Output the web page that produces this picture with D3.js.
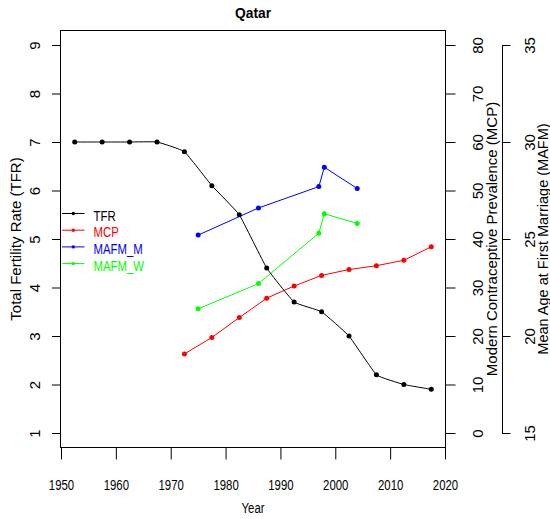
<!DOCTYPE html>
<meta charset="utf-8">
<style>

body{
    margin:0;
    background-color:white;
}

svg.vis{
    display:block;
    font-family:"Liberation Sans", Arial, sans-serif;
}

.axis text{
    font-size:15px;
    fill:black;
}

.axis line, .axis path{
    stroke:black;
}

.box{
    fill:none;
    stroke:black;
}

.series{
    fill:none;
    stroke-width:1;
}

.label{
    font-size:15px;
}

.label.small{
    font-size:14.5px;
}

.title{
    font-size:15px;
    font-weight:bold;
}

</style>
<body>
<script src="https://cdn.jsdelivr.net/npm/d3@7"></script>
<script>

// values
var tfrYears = [1952.5, 1957.5, 1962.5, 1967.5, 1972.5, 1977.5, 1982.5, 1987.5, 1992.5, 1997.5, 2002.5, 2007.5, 2012.5, 2017.5];
var tfrValues = [7.0, 7.0, 7.0, 7.0, 6.8, 6.1, 5.5, 4.4, 3.7, 3.5, 3.0, 2.2, 2.0, 1.9];

var mcpYears = [1972.5, 1977.5, 1982.5, 1987.5, 1992.5, 1997.5, 2002.5, 2007.5, 2012.5, 2017.5];
var mcpValues = [16.3, 19.7, 23.8, 27.8, 30.3, 32.5, 33.7, 34.5, 35.6, 38.4];

var mafmYears = [1975, 1986, 1997, 1998, 2004];
var mafmMen = [25.2, 26.6, 27.7, 28.7, 27.6];
var mafmWomen = [21.4, 22.7, 25.3, 26.3, 25.8];

var yearTicks = [1950, 1960, 1970, 1980, 1990, 2000, 2010, 2020];
var tfrTicks = [1, 2, 3, 4, 5, 6, 7, 8, 9];
var mcpTicks = [0, 10, 20, 30, 40, 50, 60, 70, 80];
var mafmTicks = [15, 20, 25, 30, 35];

var legendLabels = ["TFR", "MCP", "MAFM_M", "MAFM_W"];
var legendColors = ["black", "red", "blue", "#00ff00"];

var width = 550,
    height = 519;

var box = {left:60.5, right:445.5, top:30.5, bottom:447.5};
var squeeze = 0.76;

var svg = d3.select("body").append("svg")
    .attr("class","vis")
    .attr("width", width)
    .attr("height", height);

var x = d3.scaleLinear().domain([1950, 2020]).range([61, 445]);
var yTfr = d3.scaleLinear().domain([1, 9]).range([433, 45]);
var yMcp = d3.scaleLinear().domain([0, 80]).range([433, 45]);
var yMafm = d3.scaleLinear().domain([15, 35]).range([433, 45]);

// plot frame
svg.append("rect")
    .attr("class","box")
    .attr("x", box.left)
    .attr("y", box.top)
    .attr("width", box.right - box.left)
    .attr("height", box.bottom - box.top);

// axes
function cleanAxis(g){
    g.attr("font-size", null).attr("font-family", null);
    g.select(".domain").remove();
}

var xAxis = svg.append("g")
    .attr("class","axis")
    .attr("transform","translate(0," + box.bottom + ")")
    .call(d3.axisBottom(x).tickValues(yearTicks).tickFormat(d3.format("d")).tickSize(12))
    .call(cleanAxis);
xAxis.selectAll("text")
    .attr("y", 0).attr("dy", null)
    .attr("text-anchor","middle")
    .attr("transform","translate(0,42) scale(" + squeeze + ",1)");

var tfrAxis = svg.append("g")
    .attr("class","axis")
    .attr("transform","translate(" + box.left + ",0)")
    .call(d3.axisLeft(yTfr).tickValues(tfrTicks).tickSize(8.5))
    .call(cleanAxis);
tfrAxis.selectAll("text")
    .attr("x", 0).attr("dy", null)
    .attr("text-anchor","middle")
    .attr("transform","translate(-21,0) rotate(-90)");

var mcpAxis = svg.append("g")
    .attr("class","axis")
    .attr("transform","translate(" + box.right + ",0)")
    .call(d3.axisRight(yMcp).tickValues(mcpTicks).tickSize(10))
    .call(cleanAxis);
mcpAxis.selectAll("text")
    .attr("x", 0).attr("dy", null)
    .attr("text-anchor","middle")
    .attr("transform","translate(37.5,0) rotate(-90)");

var mafmAxis = svg.append("g")
    .attr("class","axis")
    .attr("transform","translate(502,0)")
    .call(d3.axisRight(yMafm).tickValues(mafmTicks).tickSizeInner(8.5).tickSizeOuter(0))
    .call(function(g){ g.attr("font-size", null).attr("font-family", null); });
mafmAxis.selectAll("text")
    .attr("x", 0).attr("dy", null)
    .attr("text-anchor","middle")
    .attr("transform","translate(33,0) rotate(-90)");

// titles
var midY = (box.top + box.bottom) / 2;
var midX = (box.left + box.right) / 2;

svg.append("text")
    .attr("class","title")
    .attr("text-anchor","middle")
    .attr("transform","translate(" + midX + ",18) scale(0.92,1)")
    .text("Qatar");

svg.append("text")
    .attr("class","label")
    .attr("text-anchor","middle")
    .attr("transform","translate(" + midX + ",513) scale(" + squeeze + ",1)")
    .text("Year");

svg.append("text")
    .attr("class","label")
    .attr("text-anchor","middle")
    .attr("transform","translate(20.5," + midY + ") rotate(-90)")
    .text("Total Fertility Rate (TFR)");

svg.append("text")
    .attr("class","label")
    .attr("text-anchor","middle")
    .attr("transform","translate(497," + midY + ") rotate(-90)")
    .text("Modern Contraceptive Prevalence (MCP)");

svg.append("text")
    .attr("class","label small")
    .attr("text-anchor","middle")
    .attr("transform","translate(547.5," + midY + ") rotate(-90)")
    .text("Mean Age at First Marriage (MAFM)");

// series
function drawSeries(years, values, yScale, color, curve){
    var pts = years.map(function(d, i){ return [d, values[i]]; });
    var line = d3.line()
        .x(function(d){ return x(d[0]); })
        .y(function(d){ return yScale(d[1]); })
        .curve(curve || d3.curveLinear);
    svg.append("path")
        .datum(pts)
        .attr("class","series")
        .attr("stroke", color)
        .attr("d", line);
    svg.append("g").selectAll("circle")
        .data(pts)
        .enter().append("circle")
        .attr("cx", function(d){ return x(d[0]); })
        .attr("cy", function(d){ return yScale(d[1]); })
        .attr("r", 2.5)
        .attr("fill", color);
}

drawSeries(mcpYears, mcpValues, yMcp, legendColors[1]);
drawSeries(mafmYears, mafmMen, yMafm, legendColors[2]);
drawSeries(mafmYears, mafmWomen, yMafm, legendColors[3]);
drawSeries(tfrYears, tfrValues, yTfr, legendColors[0], d3.curveCardinal.tension(0.7));

// legend
var legend = svg.append("g")
    .attr("class","legend")
    .selectAll("g")
    .data(legendLabels)
    .enter().append("g")
    .attr("transform", function(d, i){ return "translate(0," + (213.5 + i * 16.7) + ")"; });

legend.append("line")
    .attr("x1", 62).attr("x2", 84.5)
    .attr("stroke", function(d, i){ return legendColors[i]; });
legend.append("circle")
    .attr("cx", 73.3)
    .attr("r", 1.7)
    .attr("fill", function(d, i){ return legendColors[i]; });
legend.append("text")
    .attr("class","label")
    .attr("transform","translate(93.5,7) scale(" + squeeze + ",1)")
    .attr("fill", function(d, i){ return legendColors[i]; })
    .text(function(d){ return d; });

</script>
